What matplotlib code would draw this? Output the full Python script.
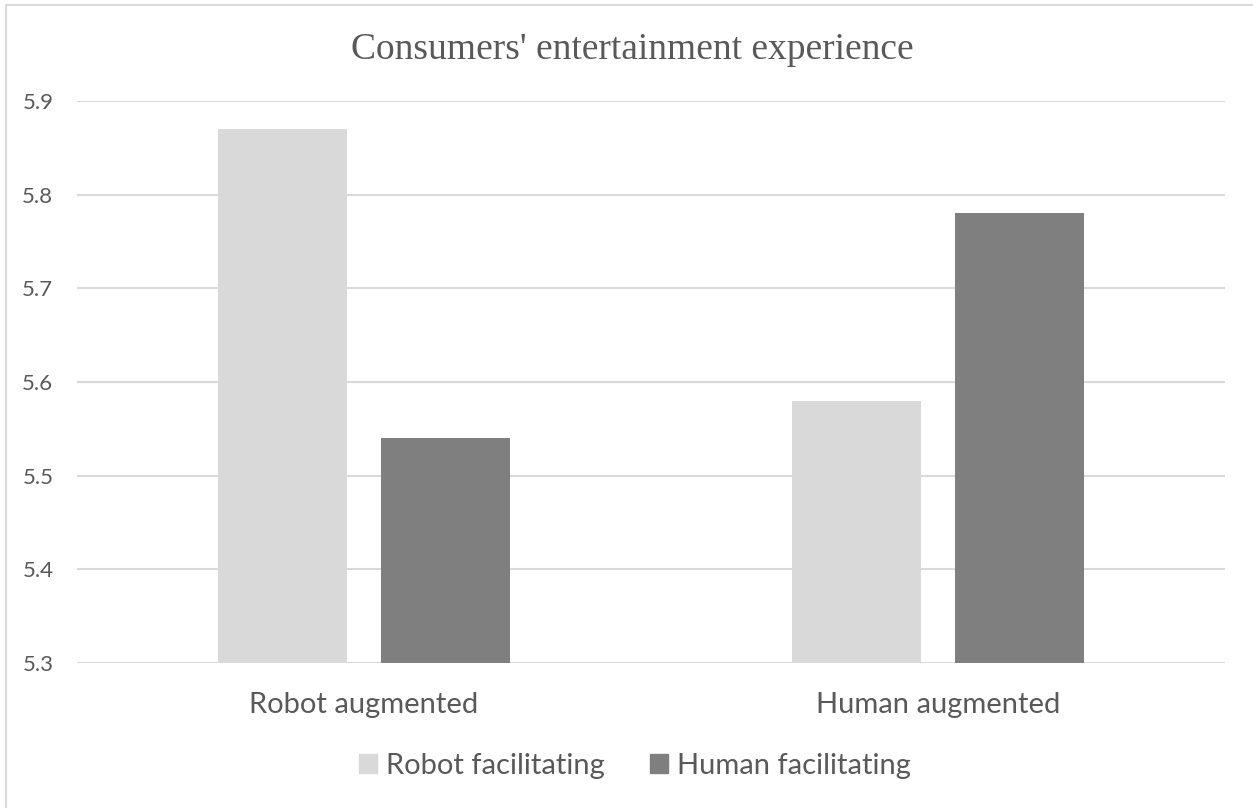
import numpy as np
import matplotlib.pyplot as plt
from matplotlib.lines import Line2D
from matplotlib.patches import Patch

categories = ["Robot augmented", "Human augmented"]
series_names = ["Robot facilitating", "Human facilitating"]
robot_fac = [5.87, 5.58]
human_fac = [5.54, 5.78]
y_ticks = [5.3, 5.4, 5.5, 5.6, 5.7, 5.8, 5.9]

light = "#d9d9d9"
dark = "#7f7f7f"
text_col = "#595959"
sans = ["Lato", "DejaVu Sans"]

W, H = 1253, 808
fig = plt.figure(figsize=(W / 100, H / 100), dpi=100)
ax = fig.add_axes([77 / W, 1 - 663 / H, (1225 - 77) / W, (663 - 101) / H])

x = np.arange(len(categories))
bw = 0.225
off = 0.142
ax.bar(x - off, robot_fac, bw, color=light, label=series_names[0], zorder=3)
ax.bar(x + off, human_fac, bw, color=dark, label=series_names[1], zorder=3)

ax.set_xlim(-0.5, 1.5)
ax.set_ylim(5.3, 5.9)
ax.set_yticks(y_ticks)
ax.set_yticklabels([f"{v:.1f}" for v in y_ticks], family=sans, fontsize=16, color=text_col)
ax.set_xticks(x)
ax.set_xticklabels(categories, family=sans, fontsize=21, color=text_col)
ax.tick_params(axis="both", length=0)
ax.tick_params(axis="y", pad=17)
ax.tick_params(axis="x", pad=21)
ax.yaxis.grid(True, color=light, linewidth=1.5, zorder=0)
for s in ax.spines.values():
    s.set_visible(False)

fig.text(632 / W, 1 - 59 / H, "Consumers' entertainment experience", ha="center", va="baseline",
         family=["Liberation Serif", "DejaVu Serif"], fontsize=27, color=text_col)

handles = [Patch(color=light), Patch(color=dark)]
fig.legend(handles, series_names, loc="center", bbox_to_anchor=(635 / W, 1 - 766 / H), ncol=2,
           frameon=False, prop={"family": sans, "size": 21}, labelcolor=text_col,
           handlelength=0.62, handleheight=0.62, handletextpad=0.31, columnspacing=1.55)

fig.add_artist(Line2D([6 / W, 6 / W], [0, 1 - 5 / H], color=light, linewidth=1.5))
fig.add_artist(Line2D([6 / W, 1], [1 - 5 / H, 1 - 5 / H], color=light, linewidth=1.5))

fig.savefig("out.png", dpi=100, facecolor="white")
